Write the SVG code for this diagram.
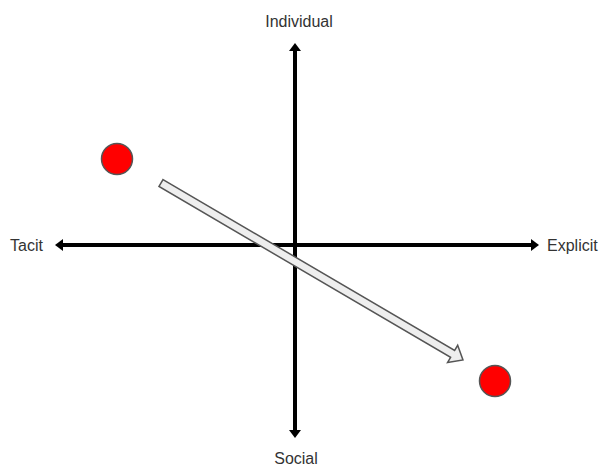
<svg xmlns="http://www.w3.org/2000/svg" width="601" height="467" viewBox="0 0 601 467">
  <style>
    .lbl { font-family: "Liberation Sans", Arial, sans-serif; font-size: 16px; fill: #333; }
    .axis { stroke: #000; stroke-width: 4; fill: none; }
    .dot { fill: #ff0000; stroke: #555; stroke-width: 1.5; }
    .block { fill: #eeeeee; stroke: #555; stroke-width: 1.5; stroke-linejoin: miter; }
  </style>
  <defs>
    <marker id="head" viewBox="0 0 8 12" markerWidth="8" markerHeight="12" markerUnits="userSpaceOnUse" refX="1" refY="6" orient="auto-start-reverse">
      <path d="M0,0 L8,6 L0,12 z" fill="#000"/>
    </marker>
  </defs>
  <rect width="601" height="467" fill="#fff"/>
  <g id="connectors">
    <line class="axis" x1="62" y1="245" x2="532" y2="245" marker-start="url(#head)" marker-end="url(#head)"/>
    <line class="axis" x1="295" y1="50" x2="295" y2="431" marker-start="url(#head)" marker-end="url(#head)"/>
    <g id="shift-arrow" transform="translate(161,183) rotate(30.37)">
      <polygon class="block" points="0,-4 338,-4 338,-10 350,0 338,10 338,4 0,4"/>
    </g>
  </g>
  <g id="individual"><text class="lbl" x="299" y="27" text-anchor="middle">Individual</text></g>
  <g id="social"><text class="lbl" x="296" y="464" text-anchor="middle">Social</text></g>
  <g id="tacit"><text class="lbl" x="10" y="251">Tacit</text></g>
  <g id="explicit"><text class="lbl" x="547" y="251">Explicit</text></g>
  <g id="dot-start"><circle class="dot" cx="117" cy="159" r="15.5"/></g>
  <g id="dot-end"><circle class="dot" cx="495" cy="381" r="15.5"/></g>
</svg>
